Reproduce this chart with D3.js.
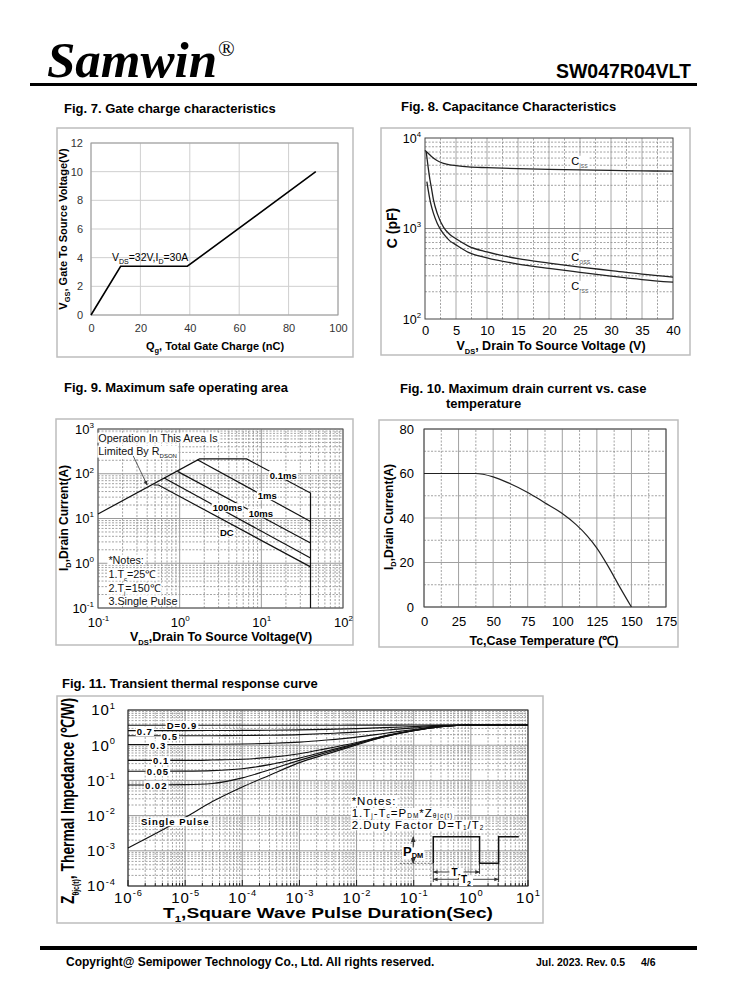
<!DOCTYPE html>
<html>
<head>
<meta charset="utf-8">
<title>SW047R04VLT page 4</title>
<script src="https://cdn.jsdelivr.net/npm/d3@7"></script>
<style>
  html, body { margin: 0; padding: 0; background: #fff; }
</style>
</head>
<body>
<div id="page"></div>
<script>
// Fig. 7 - gate charge
const gateCharge = [0, 12, 39, 91];
const gateVoltage = [0, 3.4, 3.4, 10];
const gateXTicks = [0, 20, 40, 60, 80, 100];
const gateYTicks = [0, 2, 4, 6, 8, 10, 12];

// Fig. 8 - capacitance
const cissV = [0, 0.5, 1, 2, 3, 4, 5, 7, 10, 15, 20, 25, 30, 35, 40];
const cissC = [7300, 6800, 6300, 5600, 5250, 5050, 4950, 4800, 4700, 4580, 4500, 4440, 4380, 4330, 4300];
const cossV = [0.2, 0.5, 0.8, 1, 1.35, 2, 3, 4, 5, 7, 10, 15, 20, 25, 30, 35, 40];
const cossC = [7000, 4800, 3450, 2900, 2100, 1450, 1030, 860, 770, 640, 550, 465, 415, 375, 343, 313, 290];
const crssV = [0.3, 0.5, 0.8, 1, 1.35, 2, 3, 4, 5, 7, 10, 15, 20, 25, 30, 35, 40];
const crssC = [3300, 2700, 2070, 1800, 1480, 1130, 870, 730, 660, 545, 475, 405, 362, 328, 298, 273, 255];
const capXTicks = [0, 5, 10, 15, 20, 25, 30, 35, 40];
const capYTicks = [100, 1000, 10000];

// Fig. 9 - safe operating area
const soaLimitV = [0.1, 1.75, 6.6, 40, 40];
const soaLimitI = [12.6, 215, 215, 37, 0.1];
const soa1msV = [1.65, 40];
const soa1msI = [205, 8.6];
const soa10msV = [0.94, 40];
const soa10msI = [113, 2.84];
const soa100msV = [0.645, 40];
const soa100msI = [80, 1.31];
const soaDcV = [0.48, 0.55, 40];
const soaDcI = [56, 56, 0.83];
const soaXTicks = [0.1, 1, 10, 100];
const soaYTicks = [0.1, 1, 10, 100, 1000];

// Fig. 10 - drain current vs case temperature
const caseTemp = [0, 25, 37, 50, 62, 75, 87, 100, 110, 118, 125, 133, 142, 150];
const drainCurrent = [60, 60, 60, 58.5, 55.5, 51.5, 47, 42, 37, 32, 26.5, 18.5, 8.5, 0];
const tempXTicks = [0, 25, 50, 75, 100, 125, 150, 175];
const tempYTicks = [0, 20, 40, 60, 80];

// Fig. 11 - transient thermal impedance
const pulseT = [1e-6, 1e-5, 3e-5, 1e-4, 3e-4, 1e-3, 3e-3, 1e-2, 3e-2, 1e-1, 3e-1, 1, 10];
const zD09 = [3.68, 3.68, 3.68, 3.68, 3.68, 3.69, 3.7, 3.71, 3.72, 3.74, 3.76, 3.76, 3.76];
const zD07 = [2.6, 2.6, 2.61, 2.63, 2.66, 2.72, 2.82, 2.96, 3.15, 3.4, 3.65, 3.76, 3.76];
const zD05 = [1.85, 1.85, 1.86, 1.88, 1.92, 2.0, 2.15, 2.35, 2.66, 3.1, 3.55, 3.76, 3.76];
const zD03 = [1.05, 1.05, 1.06, 1.08, 1.13, 1.22, 1.4, 1.7, 2.15, 2.8, 3.45, 3.76, 3.76];
const zD01 = [0.37, 0.37, 0.38, 0.4, 0.45, 0.57, 0.8, 1.2, 1.82, 2.65, 3.4, 3.76, 3.76];
const zD005 = [0.182, 0.184, 0.19, 0.215, 0.28, 0.43, 0.68, 1.12, 1.78, 2.62, 3.38, 3.76, 3.76];
const zD002 = [0.074, 0.076, 0.082, 0.118, 0.2, 0.37, 0.62, 1.08, 1.75, 2.6, 3.37, 3.76, 3.76];
const zSingle = [0.0012, 0.0088, 0.025, 0.065, 0.14, 0.32, 0.56, 1.02, 1.72, 2.58, 3.36, 3.76, 3.76];
const dutyLabels = ['D=0.9', '0.7', '0.5', '0.3', '0.1', '0.05', '0.02', 'Single Pulse'];
const pulseXTicks = [1e-6, 1e-5, 1e-4, 1e-3, 1e-2, 1e-1, 1, 10];
const pulseYTicks = [1e-4, 1e-3, 1e-2, 1e-1, 1, 10];

const FONT = '"Liberation Sans", Arial, Helvetica, sans-serif';
const NARROW = '"Liberation Sans Narrow", "Arial Narrow", "Liberation Sans", sans-serif';

const svg = d3.select('#page').append('svg')
    .attr('width', 738)
    .attr('height', 1000)
    .attr('font-family', FONT);

svg.append('defs').append('marker')
    .attr('id', 'arrow')
    .attr('viewBox', '0 0 10 10')
    .attr('refX', 9).attr('refY', 5)
    .attr('markerWidth', 6).attr('markerHeight', 6)
    .attr('orient', 'auto-start-reverse')
    .append('path')
    .attr('d', 'M0,1 L10,5 L0,9 z')
    .attr('fill', '#333');

// ---------- helpers ----------

// text with sub / sup parts: strings or {sub: ''} / {sup: ''}
function rich(t, parts, size, small, subRatio) {
    const r = subRatio || 0.28;
    let shift = 0;
    parts.forEach(p => {
        const s = t.append('tspan');
        if (typeof p === 'string') {
            if (shift) s.attr('dy', -shift);
            s.text(p);
            shift = 0;
        } else if (p.sub !== undefined) {
            const d = size * r;
            s.attr('dy', d - shift).attr('font-size', small).text(p.sub);
            shift = d;
        } else {
            const d = -size * 0.45;
            s.attr('dy', d - shift).attr('font-size', small).text(p.sup);
            shift = d;
        }
    });
    return t;
}

// white box under a text so grid lines stop around it
function backing(g, t, pad) {
    const b = t.node().getBBox();
    g.insert('rect', () => t.node())
        .attr('x', b.x - pad).attr('y', b.y + 1)
        .attr('width', b.width + 2 * pad).attr('height', b.height - 2)
        .attr('fill', '#fff');
}

function frame(x, y, w, h) {
    svg.append('rect')
        .attr('x', x).attr('y', y)
        .attr('width', w).attr('height', h)
        .attr('fill', 'none')
        .attr('stroke', '#bdbdbd')
        .attr('stroke-width', 1.5);
}

function title(x, y, txt) {
    svg.append('text')
        .attr('x', x).attr('y', y)
        .attr('font-size', 13)
        .attr('font-weight', 'bold')
        .text(txt);
}

function plotBox(g, xs, ys, color) {
    g.append('rect')
        .attr('x', xs.range()[0]).attr('y', ys.range()[1])
        .attr('width', xs.range()[1] - xs.range()[0])
        .attr('height', ys.range()[0] - ys.range()[1])
        .attr('fill', 'none')
        .attr('stroke', color)
        .attr('stroke-width', 1);
}

function vLines(g, xs, ys, values, dashed, color) {
    g.append('g').selectAll('line').data(values).enter().append('line')
        .attr('x1', d => xs(d)).attr('x2', d => xs(d))
        .attr('y1', ys.range()[0]).attr('y2', ys.range()[1])
        .attr('stroke', color)
        .attr('stroke-width', dashed ? 0.8 : 1)
        .attr('stroke-dasharray', dashed ? '2,1.5' : null);
}

function hLines(g, xs, ys, values, dashed, color) {
    g.append('g').selectAll('line').data(values).enter().append('line')
        .attr('y1', d => ys(d)).attr('y2', d => ys(d))
        .attr('x1', xs.range()[0]).attr('x2', xs.range()[1])
        .attr('stroke', color)
        .attr('stroke-width', dashed ? 0.8 : 1)
        .attr('stroke-dasharray', dashed ? '2,1.5' : null);
}

const isDecade = v => Math.abs(Math.log10(v) - Math.round(Math.log10(v))) < 1e-6;

function styleAxis(g, size, color) {
    g.select('.domain').remove();
    g.selectAll('.tick line').remove();
    g.selectAll('.tick text')
        .attr('font-size', size)
        .attr('fill', color)
        .attr('font-family', FONT);
}

function powerLabels(g, size) {
    g.selectAll('.tick text').each(function (d) {
        const t = d3.select(this).text('');
        rich(t, ['10', {sup: String(Math.round(Math.log10(d)))}], size, size * 0.62);
    });
}

function rotLabel(x, y, size, parts, small, font) {
    const t = svg.append('text')
        .attr('transform', `translate(${x},${y}) rotate(-90)`)
        .attr('text-anchor', 'middle')
        .attr('font-size', size)
        .attr('font-weight', 'bold')
        .attr('font-family', font || FONT);
    return rich(t, parts, size, small);
}

function axisLabel(x, y, size, parts, small) {
    const t = svg.append('text')
        .attr('x', x).attr('y', y)
        .attr('text-anchor', 'middle')
        .attr('font-size', size)
        .attr('font-weight', 'bold');
    return rich(t, parts, size, small);
}

const zip = (a, b) => a.map((v, i) => [v, b[i]]);

// ---------- header and footer ----------
svg.append('text')
    .attr('x', 47).attr('y', 77)
    .attr('font-family', '"Liberation Serif", "Times New Roman", serif')
    .attr('font-weight', 'bold')
    .attr('font-style', 'italic')
    .attr('font-size', 51)
    .text('Samwin');
svg.append('text')
    .attr('x', 218).attr('y', 56)
    .attr('font-family', '"Liberation Serif", "Times New Roman", serif')
    .attr('font-size', 22)
    .text('®');
svg.append('text')
    .attr('x', 691).attr('y', 78)
    .attr('text-anchor', 'end')
    .attr('font-size', 19.5)
    .attr('font-weight', 'bold')
    .text('SW047R04VLT');
svg.append('rect').attr('x', 30).attr('y', 83).attr('width', 667).attr('height', 3).attr('fill', '#000');

svg.append('rect').attr('x', 40).attr('y', 946).attr('width', 657).attr('height', 4).attr('fill', '#000');
svg.append('text')
    .attr('x', 66).attr('y', 966)
    .attr('font-size', 12).attr('font-weight', 'bold')
    .text('Copyright@ Semipower Technology Co., Ltd. All rights reserved.');
svg.append('text')
    .attr('x', 536).attr('y', 966)
    .attr('font-size', 10.5).attr('font-weight', 'bold')
    .text('Jul. 2023. Rev. 0.5');
svg.append('text')
    .attr('x', 641).attr('y', 966)
    .attr('font-size', 10.5).attr('font-weight', 'bold')
    .text('4/6');

// ---------- Fig. 7 ----------
title(64, 113, 'Fig. 7. Gate charge characteristics');
frame(57, 128, 296, 229);
{
    const xs = d3.scaleLinear().domain([0, 100]).range([91, 338]);
    const ys = d3.scaleLinear().domain([0, 12]).range([315, 143]);
    const g = svg.append('g');

    vLines(g, xs, ys, gateXTicks, false, '#cfcfcf');
    hLines(g, xs, ys, gateYTicks, false, '#cfcfcf');
    plotBox(g, xs, ys, '#9a9a9a');

    g.append('g').attr('transform', 'translate(0,315)')
        .call(d3.axisBottom(xs).tickValues(gateXTicks).tickSize(0).tickPadding(9))
        .call(a => styleAxis(a, 11, '#333'));
    g.append('g').attr('transform', 'translate(91,0)')
        .call(d3.axisLeft(ys).tickValues(gateYTicks).tickSize(0).tickPadding(8))
        .call(a => styleAxis(a, 11, '#333'));

    g.append('path')
        .datum(zip(gateCharge, gateVoltage))
        .attr('d', d3.line().x(d => xs(d[0])).y(d => ys(d[1])))
        .attr('fill', 'none')
        .attr('stroke', '#000')
        .attr('stroke-width', 1.6);

    const note = g.append('text')
        .attr('x', xs(8.5)).attr('y', ys(3.4) - 5)
        .attr('font-size', 10.5);
    rich(note, ['V', {sub: 'DS'}, '=32V,I', {sub: 'D'}, '=30A'], 10.5, 7);

    rotLabel(67, 229, 11, ['V', {sub: 'GS'}, ',  Gate To  Source Voltage(V)'], 7.5);
    axisLabel(215, 350, 11, ['Q', {sub: 'g'}, ', Total Gate Charge (nC)'], 7.5);
}

// ---------- Fig. 8 ----------
title(401, 111, 'Fig. 8. Capacitance Characteristics');
frame(381, 128, 309, 227);
{
    const xs = d3.scaleLinear().domain([0, 40]).range([425, 673]);
    const ys = d3.scaleLog().domain([100, 10000]).range([319, 138]);
    const g = svg.append('g');

    vLines(g, xs, ys, d3.range(2.5, 40, 5), true, '#8c8c8c');
    vLines(g, xs, ys, d3.range(5, 40, 5), false, '#a8a8a8');
    hLines(g, xs, ys, ys.ticks().filter(v => !isDecade(v)), true, '#8c8c8c');
    hLines(g, xs, ys, [1000], false, '#8c8c8c');
    plotBox(g, xs, ys, '#444');

    g.append('g').attr('transform', 'translate(0,319)')
        .call(d3.axisBottom(xs).tickValues(capXTicks).tickSize(0).tickPadding(7))
        .call(a => styleAxis(a, 13, '#000'));
    g.append('g').attr('transform', 'translate(425,0)')
        .call(d3.axisLeft(ys).tickValues(capYTicks).tickSize(0).tickPadding(4))
        .call(a => styleAxis(a, 12.5, '#000'))
        .call(a => powerLabels(a, 12.5));

    const line = d3.line().x(d => xs(d[0])).y(d => ys(d[1])).curve(d3.curveMonotoneX);
    [zip(cissV, cissC), zip(cossV, cossC), zip(crssV, crssC)].forEach(s => {
        g.append('path')
            .datum(s)
            .attr('d', line)
            .attr('fill', 'none')
            .attr('stroke', '#222')
            .attr('stroke-width', 1.3);
    });

    // curve names, baseline given in pF
    [['iss', 5060], ['oss', 439], ['rss', 210]].forEach(([sub, c]) => {
        const t = g.append('text')
            .attr('x', xs(23.6)).attr('y', ys(c))
            .attr('font-size', 11);
        rich(t, ['C', {sub: sub}], 11, 7);
        t.select('tspan:last-child').attr('fill', '#666');
        backing(g, t, 1);
    });

    rotLabel(397, 228, 14, ['C (pF)'], 9);
    axisLabel(551, 350, 12.5, ['V', {sub: 'DS'}, ', Drain To Source Voltage (V)'], 7.5);
}

// ---------- Fig. 9 ----------
title(64, 392, 'Fig. 9. Maximum safe operating area');
frame(56, 419, 297, 226);
{
    const xs = d3.scaleLog().domain([0.1, 100]).range([98, 343]);
    const ys = d3.scaleLog().domain([0.1, 1000]).range([608, 429]);
    const g = svg.append('g');

    vLines(g, xs, ys, xs.ticks().filter(v => !isDecade(v)), true, '#8c8c8c');
    hLines(g, xs, ys, ys.ticks().filter(v => !isDecade(v)), true, '#8c8c8c');
    vLines(g, xs, ys, soaXTicks, false, '#9a9a9a');
    hLines(g, xs, ys, soaYTicks, false, '#9a9a9a');
    plotBox(g, xs, ys, '#555');

    g.append('g').attr('transform', 'translate(0,608)')
        .call(d3.axisBottom(xs).tickValues(soaXTicks).tickSize(0).tickPadding(9.5))
        .call(a => styleAxis(a, 13, '#000'))
        .call(a => powerLabels(a, 13));
    g.append('g').attr('transform', 'translate(98,0)')
        .call(d3.axisLeft(ys).tickValues(soaYTicks).tickSize(0).tickPadding(4))
        .call(a => styleAxis(a, 13, '#000'))
        .call(a => powerLabels(a, 13));

    // text boxes first, lines drawn over them
    const texts = [
        [0.101, 520, ['Operation In This Area Is']],
        [0.101, 268, ['Limited By R', {sub: 'DSON'}]],
        [0.134, 0.98, ['*Notes:']],
        [0.134, 0.48, ['1.T', {sub: 'c'}, '=25℃']],
        [0.134, 0.232, ['2.T', {sub: 'j'}, '=150℃']],
        [0.134, 0.118, ['3.Single Pulse']]
    ];
    texts.forEach(([v, i, parts]) => {
        const t = g.append('text')
            .attr('x', xs(v)).attr('y', ys(i))
            .attr('font-size', 10.8)
            .attr('fill', '#111');
        rich(t, parts, 10.8, 6);
        backing(g, t, 1);
    });

    const line = d3.line().x(d => xs(d[0])).y(d => ys(d[1]));
    [zip(soaLimitV, soaLimitI), zip(soa1msV, soa1msI), zip(soa10msV, soa10msI),
        zip(soa100msV, soa100msI), zip(soaDcV, soaDcI)].forEach(s => {
        g.append('path')
            .datum(s)
            .attr('d', line)
            .attr('fill', 'none')
            .attr('stroke', '#111')
            .attr('stroke-width', 1.2);
    });

    g.append('line')
        .attr('x1', xs(0.27)).attr('y1', ys(250))
        .attr('x2', xs(0.4)).attr('y2', ys(56))
        .attr('stroke', '#333')
        .attr('stroke-width', 0.8)
        .attr('marker-end', 'url(#arrow)');

    [['0.1ms', 12.7, 77], ['1ms', 9.06, 27], ['10ms', 7.0, 11], ['100ms', 2.54, 14.6], ['DC', 3.11, 4.13]]
        .forEach(([txt, v, i]) => {
            const t = g.append('text')
                .attr('x', xs(v)).attr('y', ys(i))
                .attr('font-size', 9.5)
                .attr('font-weight', 'bold')
                .text(txt);
            backing(g, t, 1);
        });

    rotLabel(68, 518, 12, ['I', {sub: 'D'}, ',Drain Current(A)'], 7.5);
    axisLabel(221, 641, 12.5, ['V', {sub: 'DS'}, ',Drain To Source Voltage(V)'], 7.5);
}

// ---------- Fig. 10 ----------
title(400, 393, 'Fig. 10. Maximum drain current vs. case');
svg.append('text')
    .attr('x', 446).attr('y', 408)
    .attr('font-size', 13).attr('font-weight', 'bold')
    .text('temperature');
frame(379, 420, 299, 227);
{
    const xs = d3.scaleLinear().domain([0, 175]).range([424, 666]);
    const ys = d3.scaleLinear().domain([0, 80]).range([607, 429]);
    const g = svg.append('g');

    vLines(g, xs, ys, d3.range(12.5, 175, 25), true, '#8c8c8c');
    hLines(g, xs, ys, d3.range(10, 80, 20), true, '#8c8c8c');
    vLines(g, xs, ys, tempXTicks, false, '#a0a0a0');
    hLines(g, xs, ys, tempYTicks, false, '#a0a0a0');
    plotBox(g, xs, ys, '#444');

    g.append('g').attr('transform', 'translate(0,607)')
        .call(d3.axisBottom(xs).tickValues(tempXTicks).tickSize(0).tickPadding(10))
        .call(a => styleAxis(a, 13, '#000'));
    g.append('g').attr('transform', 'translate(424,0)')
        .call(d3.axisLeft(ys).tickValues(tempYTicks).tickSize(0).tickPadding(10))
        .call(a => styleAxis(a, 13, '#000'));

    g.append('path')
        .datum(zip(caseTemp, drainCurrent))
        .attr('d', d3.line().x(d => xs(d[0])).y(d => ys(d[1])).curve(d3.curveMonotoneX))
        .attr('fill', 'none')
        .attr('stroke', '#222')
        .attr('stroke-width', 1.2);

    rotLabel(393, 517, 12, ['I', {sub: 'D'}, ',Drain Current(A)'], 7.5);
    axisLabel(544, 645, 12.5, ['Tc,Case Temperature (℃)'], 7.5);
}

// ---------- Fig. 11 ----------
title(62, 688, 'Fig. 11. Transient thermal response curve');
frame(57, 696, 486, 227);
{
    const xs = d3.scaleLog().domain([1e-6, 10]).range([128, 528]);
    const ys = d3.scaleLog().domain([1e-4, 10]).range([886, 710]);
    const g = svg.append('g');

    vLines(g, xs, ys, xs.ticks().filter(v => !isDecade(v)), true, '#8c8c8c');
    hLines(g, xs, ys, ys.ticks().filter(v => !isDecade(v)), true, '#8c8c8c');
    vLines(g, xs, ys, pulseXTicks, false, '#9a9a9a');
    hLines(g, xs, ys, pulseYTicks, false, '#9a9a9a');
    plotBox(g, xs, ys, '#222');

    // small inner ticks on the bottom edge
    g.append('g').selectAll('line').data(xs.ticks()).enter().append('line')
        .attr('x1', d => xs(d)).attr('x2', d => xs(d))
        .attr('y1', 886).attr('y2', d => isDecade(d) ? 880 : 883)
        .attr('stroke', '#222');

    g.append('g').attr('transform', 'translate(0,886)')
        .call(d3.axisBottom(xs).tickValues(pulseXTicks).tickSize(0).tickPadding(6))
        .call(a => styleAxis(a, 15, '#000'))
        .call(a => powerLabels(a, 15))
        .selectAll('.tick text').attr('letter-spacing', 1);
    g.append('g').attr('transform', 'translate(128,0)')
        .call(d3.axisLeft(ys).tickValues(pulseYTicks).tickSize(0).tickPadding(12))
        .call(a => styleAxis(a, 15, '#000'))
        .call(a => powerLabels(a, 15))
        .selectAll('.tick text').attr('letter-spacing', 1);

    const line = d3.line().x(d => xs(d[0])).y(d => ys(d[1])).curve(d3.curveMonotoneX);
    const series = [zD09, zD07, zD05, zD03, zD01, zD005, zD002, zSingle];
    series.forEach(s => {
        g.append('path')
            .datum(zip(pulseT, s))
            .attr('d', line)
            .attr('fill', 'none')
            .attr('stroke', '#111')
            .attr('stroke-width', 1.1);
    });

    // labels sit on their curves near the left edge
    const labelAt = [4.75e-6, 1.42e-6, 3.9e-6, 2.43e-6, 2.74e-6, 2.12e-6, 1.98e-6, 1.69e-6];
    const labelZ = [3.68, 2.45, 1.76, 0.97, 0.36, 0.178, 0.073, 0.0067];
    dutyLabels.forEach((txt, i) => {
        const t = g.append('text')
            .attr('x', xs(labelAt[i])).attr('y', ys(labelZ[i]) + 3.5)
            .attr('font-size', 9.5)
            .attr('font-weight', 'bold')
            .attr('letter-spacing', 1)
            .text(txt);
        backing(g, t, 1);
    });

    // notes
    const notes = [
        ['*Notes:'],
        ['1.T', {sub: 'j'}, '-T', {sub: 'c'}, '=P', {sub: 'DM'}, '*Z', {sub: 'θjc(t)'}],
        ['2.Duty Factor D=T', {sub: '1'}, '/T', {sub: '2'}]
    ];
    const noteZ = [0.020, 0.0091, 0.0042];
    notes.forEach((parts, i) => {
        const t = g.append('text')
            .attr('x', xs(8.2e-3)).attr('y', ys(noteZ[i]))
            .attr('font-size', 11.5)
            .attr('letter-spacing', 1);
        rich(t, parts, 11.5, 6.5, 0.12);
        backing(g, t, 1);
    });

    // duty cycle sketch
    const tA = 0.22, tB = 1.42, tC = 3.06, tD = 6.9;
    const zHi = 0.0025, zLo = 0.00044;
    const tP = 0.098;
    const lab = g.append('text')
        .attr('x', xs(tP)).attr('y', ys(6.9e-4))
        .attr('text-anchor', 'middle')
        .attr('font-size', 13)
        .attr('font-weight', 'bold');
    rich(lab, ['P', {sub: 'DM'}], 13, 7.5, 0.12);
    backing(g, lab, 1);

    g.append('path')
        .datum([[tA, zLo], [tA, zHi], [tB, zHi], [tB, zLo], [tC, zLo], [tC, zHi], [tD, zHi]])
        .attr('d', d3.line().x(d => xs(d[0])).y(d => ys(d[1])))
        .attr('fill', 'none')
        .attr('stroke', '#111')
        .attr('stroke-width', 1.5);
    g.append('line')
        .attr('x1', xs(tP)).attr('x2', xs(tP))
        .attr('y1', ys(1.25e-3)).attr('y2', ys(zHi))
        .attr('stroke', '#111').attr('stroke-width', 1)
        .attr('marker-end', 'url(#arrow)');
    g.append('line')
        .attr('x1', xs(tP)).attr('x2', xs(tP))
        .attr('y1', ys(6.0e-4)).attr('y2', ys(zLo))
        .attr('stroke', '#111').attr('stroke-width', 1)
        .attr('marker-end', 'url(#arrow)');
    g.append('line')
        .attr('x1', xs(0.057)).attr('x2', xs(tA))
        .attr('y1', ys(zLo)).attr('y2', ys(zLo))
        .attr('stroke', '#555').attr('stroke-width', 0.8)
        .attr('stroke-dasharray', '2,1.5');
    [[tA, 1.3e-4], [tB, 2.2e-4], [tC, 1.3e-4]].forEach(([t, z]) => {
        g.append('line')
            .attr('x1', xs(t)).attr('x2', xs(t))
            .attr('y1', ys(zLo)).attr('y2', ys(z))
            .attr('stroke', '#111').attr('stroke-width', 0.8);
    });
    [[tA, tB, 2.5e-4, 'T', '1'], [tA, tC, 1.55e-4, 'T', '2']].forEach(([a, b, z, s, n]) => {
        g.append('line')
            .attr('x1', xs(a)).attr('x2', xs(b))
            .attr('y1', ys(z)).attr('y2', ys(z))
            .attr('stroke', '#111').attr('stroke-width', 0.8)
            .attr('marker-start', 'url(#arrow)')
            .attr('marker-end', 'url(#arrow)');
        const t = g.append('text')
            .attr('x', (xs(a) + xs(b)) / 2).attr('y', ys(z) + 4)
            .attr('text-anchor', 'middle')
            .attr('font-size', 10)
            .attr('font-weight', 'bold');
        rich(t, [s, {sub: n}], 10, 7);
        backing(g, t, 2);
    });

    rotLabel(74, 801, 18, ['Z', {sub: 'θjc(t)'}, ', Thermal Impedance (℃/W)'], 9, NARROW)
        .attr('textLength', 206)
        .attr('lengthAdjust', 'spacingAndGlyphs');
    axisLabel(328, 918, 15, ['T', {sub: '1'}, ',Square Wave Pulse Duration(Sec)'], 9)
        .attr('textLength', 330)
        .attr('lengthAdjust', 'spacingAndGlyphs');
}
</script>
</body>
</html>
